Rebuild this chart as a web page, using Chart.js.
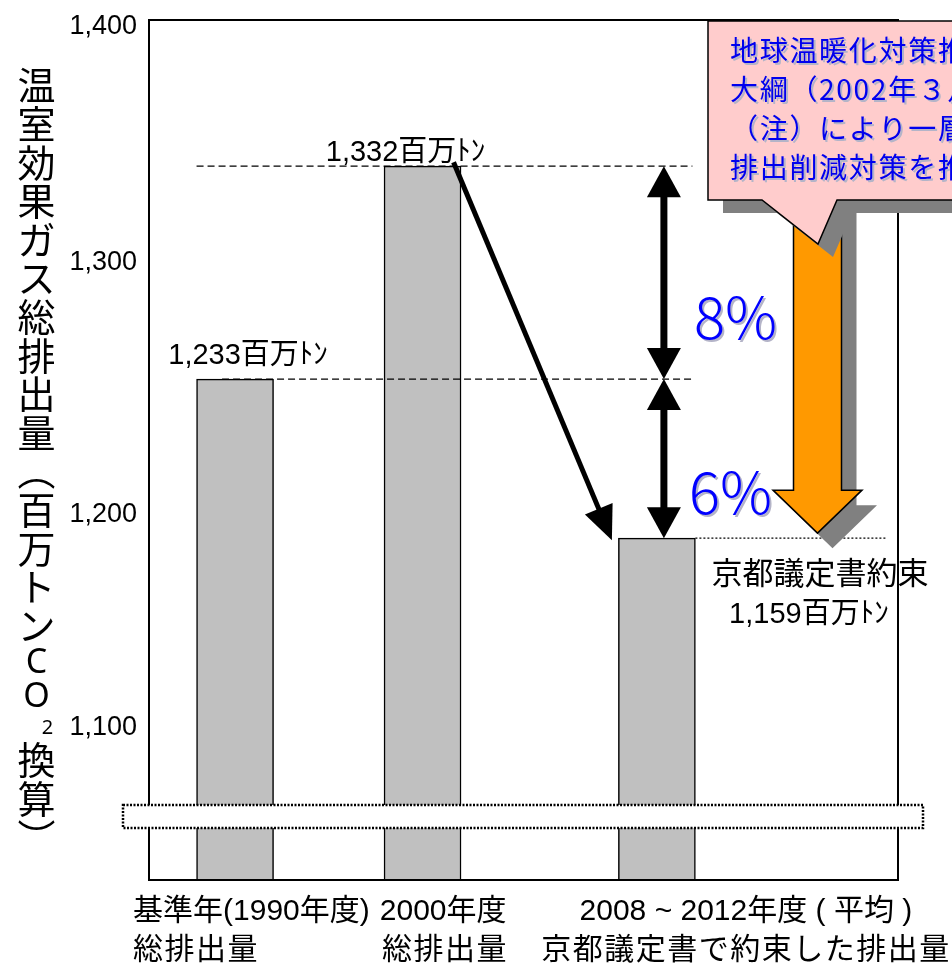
<!DOCTYPE html>
<html>
<head>
<meta charset="utf-8">
<script src="https://cdn.jsdelivr.net/npm/chart.js@4.4.1/dist/chart.umd.min.js"></script>
<style>
  html, body { margin: 0; padding: 0; background: #fff; overflow: hidden; }
  #wrap { width: 952px; height: 969px; }
</style>
</head>
<body>
<div id="wrap"><canvas id="myChart"></canvas></div>
<script>
const ctx = document.getElementById('myChart');

const categories = [
  ['基準年(1990年度)', '総排出量'],
  ['2000年度', '総排出量'],
  ['2008 ~ 2012年度 ( 平均 )', '京都議定書で約束した排出量']
];
const emissions = [1233, 1332, 1159];   // 百万トンCO2
const reductions = ['8%', '6%'];
const tickLabels = ['1,100', '1,200', '1,300', '1,400'];
const tickAt = [1071, 1170, 1287, 1397]; // the original puts its labels a bit off the true values
const yTitle = '温室効果ガス総排出量（百万トンCO2換算）';
const note = ['地球温暖化対策推進', '大綱（2002年３月）', '（注）により一層の', '排出削減対策を推進'];
const targetLabel = '京都議定書約束';

// the bars are not evenly spaced in the original
const slot = [0, 1, 2.25];

const SANS = "'Liberation Sans', 'Noto Sans CJK JP', sans-serif";
const JP = "'Noto Sans CJK JP', sans-serif";

function fmt(v) { return v.toLocaleString('en-US') + '百万ﾄﾝ'; }

function line(c, x1, y1, x2, y2) {
  c.beginPath(); c.moveTo(x1, y1); c.lineTo(x2, y2); c.stroke();
}

// filled triangle head, tip at (x,y), pointing along (dx,dy)
function head(c, x, y, dx, dy, len, half) {
  const l = Math.hypot(dx, dy), ux = dx / l, uy = dy / l;
  const bx = x - ux * len, by = y - uy * len;
  c.beginPath();
  c.moveTo(x, y);
  c.lineTo(bx - uy * half, by + ux * half);
  c.lineTo(bx + uy * half, by - ux * half);
  c.closePath();
  c.fill();
}

const decor = {
  id: 'decor',
  afterDatasetsDraw(chart) {
    const { ctx: c, chartArea: a, scales: { y } } = chart;
    const bars = chart.getDatasetMeta(0).data;
    const [b1, b2, b3] = bars;
    const yv = emissions.map(v => y.getPixelForValue(v));
    const half = b1.width / 2;
    c.save();

    // frame
    c.strokeStyle = '#000';
    c.lineWidth = 2;
    c.strokeRect(a.left, a.top, a.right - a.left, a.bottom - a.top);

    // axis break band
    c.fillStyle = '#fff';
    c.fillRect(a.left - 26, a.bottom - 75, a.right - a.left + 51, 23);
    c.setLineDash([2, 1.5]);
    c.lineWidth = 2.5;
    c.strokeRect(a.left - 26, a.bottom - 75, a.right - a.left + 51, 23);

    // dashed guides
    c.setLineDash([7, 4]);
    c.lineWidth = 1.3;
    line(c, b1.x - half, yv[1], b3.x + half - 3, yv[1]);
    line(c, b1.x - 13, yv[0], b3.x + half - 3, yv[0]);
    c.setLineDash([2, 2]);
    line(c, b3.x + half, yv[2], a.right - 11, yv[2]);
    c.setLineDash([]);

    // double arrows 8% / 6%
    c.fillStyle = '#000';
    const ax = b3.x + 7;
    c.lineWidth = 7;
    line(c, ax, yv[1] + 20, ax, yv[0] - 20);
    head(c, ax, yv[1], 0, -1, 31, 17);
    head(c, ax, yv[0], 0, 1, 31, 17);
    line(c, ax, yv[0] + 20, ax, yv[2] - 20);
    head(c, ax, yv[0], 0, -1, 31, 17);
    head(c, ax, yv[2], 0, 1, 31, 17);

    // diagonal arrow 2000 -> target
    const sx = b2.x + 31, sy = yv[1] - 4, tx = b3.x - 45, ty = yv[2] + 2;
    const dl = Math.hypot(tx - sx, ty - sy);
    c.lineWidth = 5;
    line(c, sx, sy, tx - (tx - sx) / dl * 22, ty - (ty - sy) / dl * 22);
    head(c, tx, ty, tx - sx, ty - sy, 34, 15);

    // orange arrow
    const ox = a.right - 80.5, tipY = yv[2] - 5, top = 195;
    const orange = (dx, dy) => {
      c.beginPath();
      c.moveTo(ox - 24 + dx, top + dy);
      c.lineTo(ox - 24 + dx, tipY - 43 + dy);
      c.lineTo(ox - 44.5 + dx, tipY - 43 + dy);
      c.lineTo(ox + dx, tipY + dy);
      c.lineTo(ox + 44.5 + dx, tipY - 43 + dy);
      c.lineTo(ox + 24 + dx, tipY - 43 + dy);
      c.lineTo(ox + 24 + dx, top + dy);
      c.closePath();
    };
    c.fillStyle = '#808080';
    orange(15, 15); c.fill();
    c.fillStyle = '#ff9900';
    c.lineWidth = 1.5;
    orange(0, 0); c.fill(); c.stroke();

    // callout
    const callout = (dx, dy) => {
      c.beginPath();
      c.moveTo(708 + dx, 21 + dy);
      c.lineTo(975 + dx, 21 + dy);
      c.lineTo(975 + dx, 200 + dy);
      c.lineTo(837 + dx, 200 + dy);
      c.lineTo(818 + dx, 244 + dy);
      c.lineTo(762 + dx, 200 + dy);
      c.lineTo(708 + dx, 200 + dy);
      c.closePath();
    };
    c.fillStyle = '#808080';
    callout(15, 13); c.fill();
    c.fillStyle = '#ffcccc';
    callout(0, 0); c.fill(); c.stroke();

    c.restore();
  },
  afterDraw(chart) {
    const { ctx: c, scales: { y } } = chart;
    const [b1, b2, b3] = chart.getDatasetMeta(0).data;
    const yv = emissions.map(v => y.getPixelForValue(v));
    c.save();
    c.textBaseline = 'middle';

    // callout text
    c.shadowColor = '#b4b4c8';
    c.shadowOffsetX = 2; c.shadowOffsetY = 2; c.shadowBlur = 0;
    c.fillStyle = '#0000ee';
    c.font = '28px ' + JP;
    c.letterSpacing = '1.7px';
    c.textAlign = 'left';
    note.forEach((t, i) => c.fillText(t, 730, 50 + i * 39));
    c.letterSpacing = '0px';

    // percentages
    c.fillStyle = '#0000ff';
    c.font = "300 58px 'Noto Sans CJK JP', sans-serif";
    c.fillText(reductions[0], 694, (yv[1] + yv[0]) / 2 + 44);
    c.fillText(reductions[1], 689, (yv[0] + yv[2]) / 2 + 33);
    c.shadowColor = 'transparent';

    // value labels
    c.fillStyle = '#000';
    c.textAlign = 'center';
    c.font = '29px ' + SANS;
    c.fillText(fmt(emissions[0]), b1.x + 13, yv[0] - 23);
    c.fillText(fmt(emissions[1]), b2.x - 17, yv[1] - 13);
    c.fillText(fmt(emissions[2]), b3.x + 152, yv[2] + 77);
    c.font = '31px ' + JP;
    c.fillText(targetLabel, b3.x + 163, yv[2] + 34);

    // category labels
    c.font = '30px ' + SANS;
    const place = [['left', b1.x - 102], ['right', b2.x + 84], ['center', b3.x + 89]];
    categories.forEach((lines, i) => {
      c.textAlign = place[i][0];
      lines.forEach((t, k) => {
        c.letterSpacing = k ? '1.5px' : '0px';
        c.fillText(t, place[i][1] + (k && place[i][0] === 'right' ? 1.5 : 0), 912 + k * 39);
      });
    });
    c.letterSpacing = '0px';

    // vertical axis title, upright characters
    let cy = 85 - 19.3;
    const tx = 36.5;
    c.textAlign = 'center';
    for (const ch of yTitle) {
      if (/[A-Z]/.test(ch)) {
        c.font = "34px 'Noto Sans', sans-serif";
        cy += 17 + (cy < 640 ? 2 : 0);
        c.fillText(ch, tx, cy + 2);
        cy += 17;
      } else if (/[0-9]/.test(ch)) {
        c.font = "20px 'Noto Sans', sans-serif";
        cy += 14;
        c.fillText(ch, tx + 11, cy + 2);
        cy += 14;
      } else {
        const g = ch === '（' ? '︵' : ch === '）' ? '︶' : ch;
        c.font = '38px ' + JP;
        cy += 19.3;
        c.fillText(g, tx, cy);
        cy += 19.3;
      }
    }
    c.restore();
  }
};

const chart = new Chart(ctx, {
  type: 'bar',
  data: {
    datasets: [{
      data: emissions.map((v, i) => ({ x: slot[i], y: v })),
      backgroundColor: '#c0c0c0',
      borderColor: '#000',
      borderWidth: 1.5,
      borderSkipped: false,
      barThickness: 77
    }]
  },
  options: {
    responsive: true,
    maintainAspectRatio: false,
    animation: false,
    layout: { padding: { top: 20, right: 54, bottom: 89, left: 0 } },
    plugins: { legend: { display: false }, tooltip: { enabled: false } },
    scales: {
      x: { type: 'linear', min: -0.459, max: 3.536, offset: false, display: false },
      y: {
        min: 1000,
        max: 1400,
        grid: { display: false, drawTicks: false },
        border: { display: false },
        afterFit: s => { s.width = 149; s.paddingTop = 0; s.paddingBottom = 0; },
        afterBuildTicks: s => { s.ticks = tickAt.map(v => ({ value: v })); },
        ticks: {
          autoSkip: false,
          padding: 12,
          color: '#000',
          font: { family: 'Liberation Sans', size: 27 },
          callback: (v, i) => tickLabels[i]
        }
      }
    }
  },
  plugins: [decor]
});
</script>
</body>
</html>
